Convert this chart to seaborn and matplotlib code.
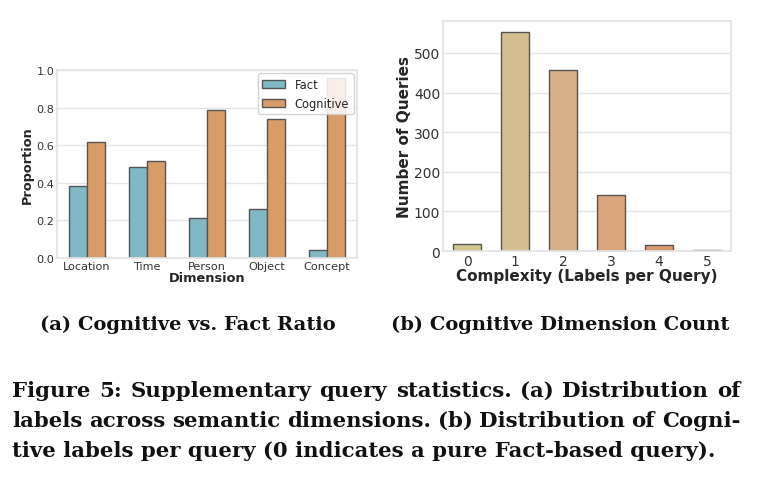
import numpy as np
import pandas as pd
import matplotlib
matplotlib.use("Agg")
import matplotlib.pyplot as plt
import seaborn as sns

# data
dimensions = ["Location", "Time", "Person", "Object", "Concept"]
fact_ratio = [0.383, 0.485, 0.215, 0.258, 0.040]
cognitive_ratio = [0.617, 0.515, 0.785, 0.742, 0.960]

complexity = [0, 1, 2, 3, 4, 5]
query_counts = [17, 553, 458, 141, 14, 2]

fact_color = "#80b9c5"
cog_color = "#d89c68"
count_colors = ["#d3c68f", "#d4bd8f", "#d5b088", "#d8a57c", "#dc9a70", "#df9064"]

sns.set_theme(style="whitegrid", rc={"grid.color": "#e6e6e6", "axes.edgecolor": "#e3e3e3"})
plt.rcParams["font.family"] = ["DejaVu Sans"]

W, H = 757, 481
fig = plt.figure(figsize=(W / 100, H / 100), dpi=100)

# (a) Cognitive vs. Fact ratio
df_ratio = pd.DataFrame({
    "Dimension": dimensions * 2,
    "Type": ["Fact"] * len(dimensions) + ["Cognitive"] * len(dimensions),
    "Proportion": fact_ratio + cognitive_ratio,
})
ax1 = fig.add_axes([57 / W, 1 - 259 / H, 300 / W, 188 / H])
sns.barplot(data=df_ratio, x="Dimension", y="Proportion", hue="Type",
            palette=[fact_color, cog_color], width=0.6, ax=ax1,
            edgecolor="#555555", linewidth=1.0, saturation=1)
ax1.set_ylim(0, 1.0)
ax1.set_xlabel("Dimension", fontsize=9.3, fontweight="bold", labelpad=0)
ax1.set_ylabel("Proportion", fontsize=9.3, fontweight="bold", labelpad=2)
ax1.tick_params(axis="both", labelsize=8.1, pad=2, length=0, colors="#333333")
leg = ax1.legend(loc="upper right", fontsize=8.3, framealpha=0.85,
                 borderaxespad=0.3, handlelength=2.0)
leg.set_zorder(5)

# (b) Cognitive dimension count
df_count = pd.DataFrame({"Complexity": complexity, "Count": query_counts})
ax2 = fig.add_axes([443 / W, 1 - 252 / H, 288 / W, 230 / H])
sns.barplot(data=df_count, x="Complexity", y="Count", hue="Complexity",
            palette=count_colors, width=0.6, legend=False, ax=ax2,
            edgecolor="#555555", linewidth=1.0, saturation=1)
ax2.set_xlabel("Complexity (Labels per Query)", fontsize=11, fontweight="bold", labelpad=0)
ax2.set_ylabel("Number of Queries", fontsize=11, fontweight="bold", labelpad=1)
ax2.tick_params(axis="both", labelsize=10, pad=2, length=0, colors="#333333")

# captions
serif = ["DejaVu Serif"]
cap_kw = dict(va="baseline", fontweight="bold", family=serif, color="#111111")
fig.text(188 / W, 1 - 330 / H, "(a) Cognitive vs. Fact Ratio", ha="center",
         fontsize=14, **cap_kw)
fig.text(560 / W, 1 - 330 / H, "(b) Cognitive Dimension Count", ha="center",
         fontsize=14, **cap_kw)

caption = [
    ("Figure 5: Supplementary query statistics. (a) Distribution of", True),
    ("labels across semantic dimensions. (b) Distribution of Cogni-", True),
    ("tive labels per query (0 indicates a pure Fact-based query).", False),
]
left_px, right_px = 12, 740
renderer = fig.canvas.get_renderer()
for i, (line, justify) in enumerate(caption):
    y = 1 - (397 + 30 * i) / H
    if not justify:
        fig.text(left_px / W, y, line, ha="left", fontsize=15.3, **cap_kw)
        continue
    words = line.split(" ")
    texts = [fig.text(0, y, w, ha="left", fontsize=15.3, **cap_kw) for w in words]
    widths = [t.get_window_extent(renderer).width for t in texts]
    gap = (right_px - left_px - sum(widths)) / (len(words) - 1)
    x = left_px
    for t, w in zip(texts, widths):
        t.set_x(x / W)
        x += w + gap

fig.savefig("out.png", dpi=100, facecolor="white")
